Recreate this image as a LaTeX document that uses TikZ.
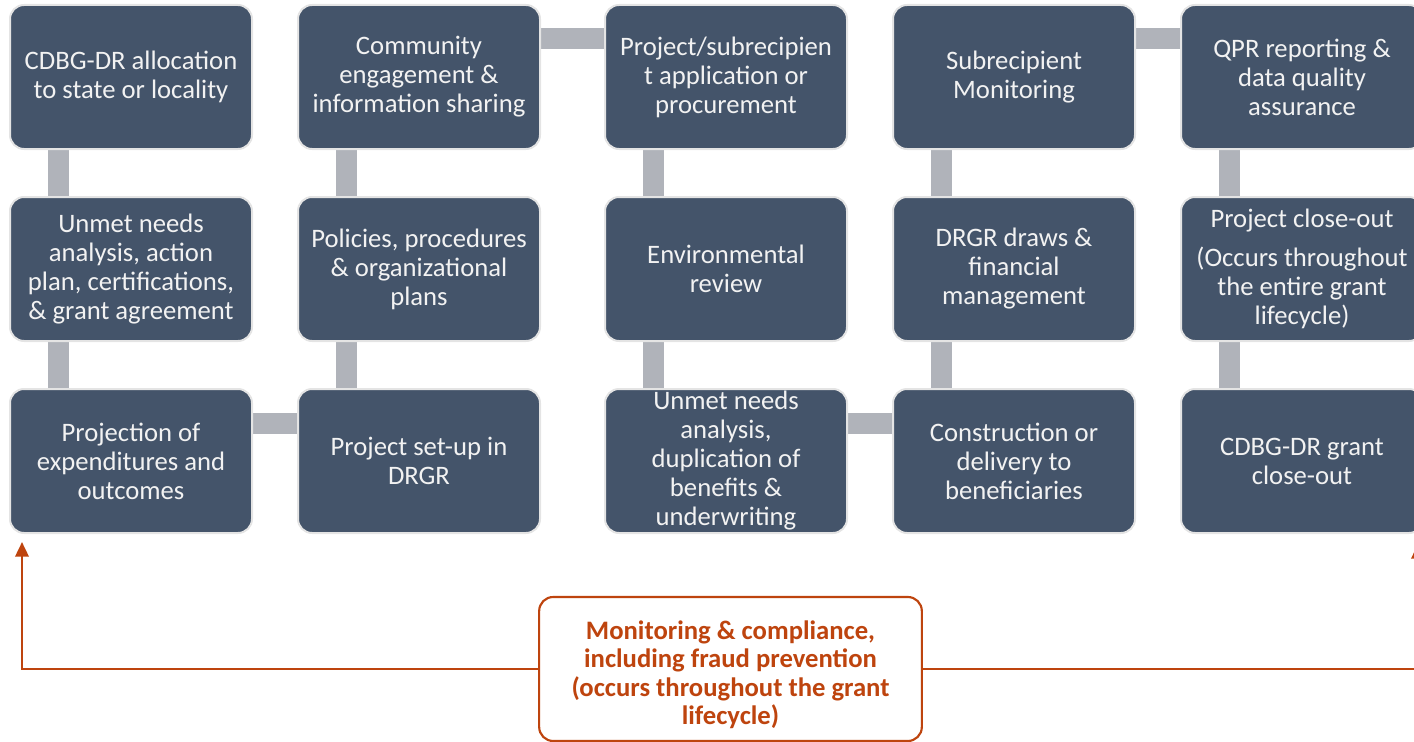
\documentclass[tikz,border=0pt]{standalone}
\usepackage{fontspec}
\setmainfont{Carlito}
\usetikzlibrary{calc,backgrounds,arrows.meta}

\definecolor{stepfill}{HTML}{44546A}
\definecolor{stepedge}{HTML}{E4E4E4}
\definecolor{linkgrey}{HTML}{B0B3BA}
\definecolor{rust}{RGB}{190,68,14}

\tikzset{
  stepbox/.style={draw=stepedge, line width=1.5pt, fill=stepfill,
    rounded corners=10.5pt, minimum width=181.5pt, minimum height=108pt,
    inner sep=0pt, align=center, text=white!95!black,
    font=\fontsize{20pt}{21.75pt}\selectfont},
  link/.style={draw=linkgrey, line width=15.75pt},
  monitorbox/.style={draw=rust, line width=1.6pt, fill=white,
    rounded corners=10.5pt, minimum width=287pt, minimum height=108pt,
    inner sep=0pt, align=center, text=rust,
    font=\bfseries\fontsize{20pt}{21.4pt}\selectfont},
  loopline/.style={draw=rust, line width=1.9pt,
    -{Triangle[length=11pt,width=10pt]}}
}

\begin{document}
\begin{tikzpicture}[x=0.75pt,y=-0.75pt]
\useasboundingbox (0,0) rectangle (1414,742);

% column 1
\node[stepbox] (a1) at (131,77)  {CDBG-DR allocation\\to state or locality};
\node[stepbox] (a2) at (131,269) {Unmet needs\\analysis, action\\plan, certifications,\\\& grant agreement};
\node[stepbox] (a3) at (131,461) {Projection of\\expenditures and\\outcomes};
% column 2
\node[stepbox] (b1) at (419,77)  {Community\\engagement \&\\information sharing};
\node[stepbox] (b2) at (419,269) {Policies, procedures\\\& organizational\\plans};
\node[stepbox] (b3) at (419,461) {Project set-up in\\DRGR};
% column 3
\node[stepbox] (c1) at (726,77)  {Project/subrecipien\\t application or\\procurement};
\node[stepbox] (c2) at (726,269) {Environmental\\review};
\node[stepbox] (c3) at (726,461) {Unmet needs\\analysis,\\duplication of\\benefits \&\\underwriting};
% column 4
\node[stepbox] (d1) at (1014,77)  {Subrecipient\\Monitoring};
\node[stepbox] (d2) at (1014,269) {DRGR draws \&\\financial\\management};
\node[stepbox] (d3) at (1014,461) {Construction or\\delivery to\\beneficiaries};
% column 5
\node[stepbox] (e1) at (1302,77)  {QPR reporting \&\\data quality\\assurance};
\node[stepbox] (e2) at (1302,269) {Project close-out\\[8pt](Occurs throughout\\the entire grant\\lifecycle)};
\node[stepbox] (e3) at (1302,461) {CDBG-DR grant\\close-out};

% grey links between the steps
\begin{scope}[on background layer]
  \foreach \u/\l in {a1/a2,a2/a3,b1/b2,b2/b3,c1/c2,c2/c3,d1/d2,d2/d3,e1/e2,e2/e3}{
    \draw[link] ($(\u.south west)+(49.5,0)$) -- ($(\l.north west)+(49.5,0)$);
  }
  \foreach \u/\l in {a3/b3,b1/c1,c3/d3,d1/e1}{
    \draw[link] ($(\u.north east)+(0,35)$) -- ($(\l.north west)+(0,35)$);
  }
\end{scope}

% monitoring loop along the bottom
\node[monitorbox] (mon) at (730.5,669) {\raisebox{-5.5pt}[\height][\depth]{\begin{tabular}{@{}c@{}}Monitoring \& compliance,\\including fraud prevention\\(occurs throughout the grant\\lifecycle)\end{tabular}}};
\coordinate (leftup) at (22,542);
\coordinate (rightup) at (1418,544);
\draw[loopline] (mon.west) -| (leftup);
\draw[loopline] (mon.east) -| (rightup);
\end{tikzpicture}
\end{document}
